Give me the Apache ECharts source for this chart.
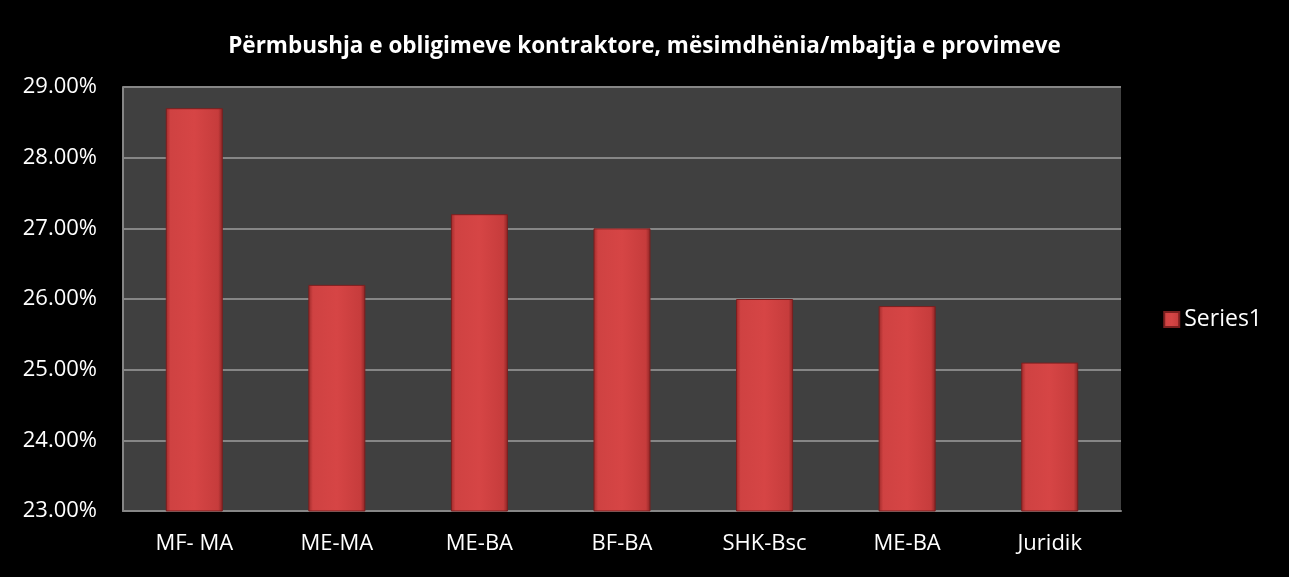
<!DOCTYPE html>
<html><head><meta charset="utf-8">
<script src="https://cdn.jsdelivr.net/npm/echarts@6/dist/echarts.min.js"></script>
<style>html,body{margin:0;padding:0;background:#000;}#c{width:1289px;height:577px;}</style>
</head><body><div id="c"></div>
<script>
var categories = ["MF- MA", "ME-MA", "ME-BA", "BF-BA", "SHK-Bsc", "ME-BA", "Juridik"];
var values = [28.7, 26.2, 27.2, 27.0, 26.0, 25.9, 25.1];
var yTicks = {min: 23, max: 29, interval: 1};
var seriesName = "Series1";
var titleText = "Përmbushja e obligimeve kontraktore, mësimdhënia/mbajtja e provimeve";

var font = "'Open Sans', 'Noto Sans', sans-serif";
var chart = echarts.init(document.getElementById('c'), null, {renderer: 'canvas'});
var barColor = new echarts.graphic.LinearGradient(0, 0, 1, 0, [
  {offset: 0, color: '#9e2a2a'},
  {offset: 0.08, color: '#cf4242'},
  {offset: 0.5, color: '#d64545'},
  {offset: 0.92, color: '#c63c3c'},
  {offset: 1, color: '#8a2424'}
]);
chart.setOption({
  backgroundColor: '#000',
  animation: false,
  title: {
    text: titleText, left: 'center', top: 30,
    textStyle: {color: '#fff', fontSize: 22.5, fontWeight: 'bold', fontFamily: font}
  },
  legend: {
    data: [seriesName], right: 22, top: 303, orient: 'vertical',
    itemWidth: 15, itemHeight: 15, icon: 'rect', itemGap: 6,
    textStyle: {color: '#fff', fontSize: 23, fontFamily: font}
  },
  grid: {left: 123, right: 168, top: 87, bottom: 66, show: true, backgroundColor: '#404040', borderWidth: 0},
  xAxis: {
    type: 'category', data: categories,
    axisLine: {show: true, lineStyle: {color: '#868686', width: 2}},
    axisTick: {show: false},
    axisLabel: {color: '#fff', fontSize: 22, fontFamily: font, margin: 22}
  },
  yAxis: {
    type: 'value', min: yTicks.min, max: yTicks.max, interval: yTicks.interval,
    axisLine: {show: true, lineStyle: {color: '#868686', width: 2}},
    axisTick: {show: false},
    splitLine: {lineStyle: {color: '#868686', width: 2}},
    axisLabel: {color: '#fff', fontSize: 22, fontFamily: font, margin: 26,
      formatter: function (v) { return v.toFixed(2) + '%'; }}
  },
  series: [{
    name: seriesName, type: 'bar', data: values, barWidth: '40%',
    itemStyle: {color: barColor, borderColor: '#7a1f1f', borderWidth: 1}
  }]
});
</script></body></html>
